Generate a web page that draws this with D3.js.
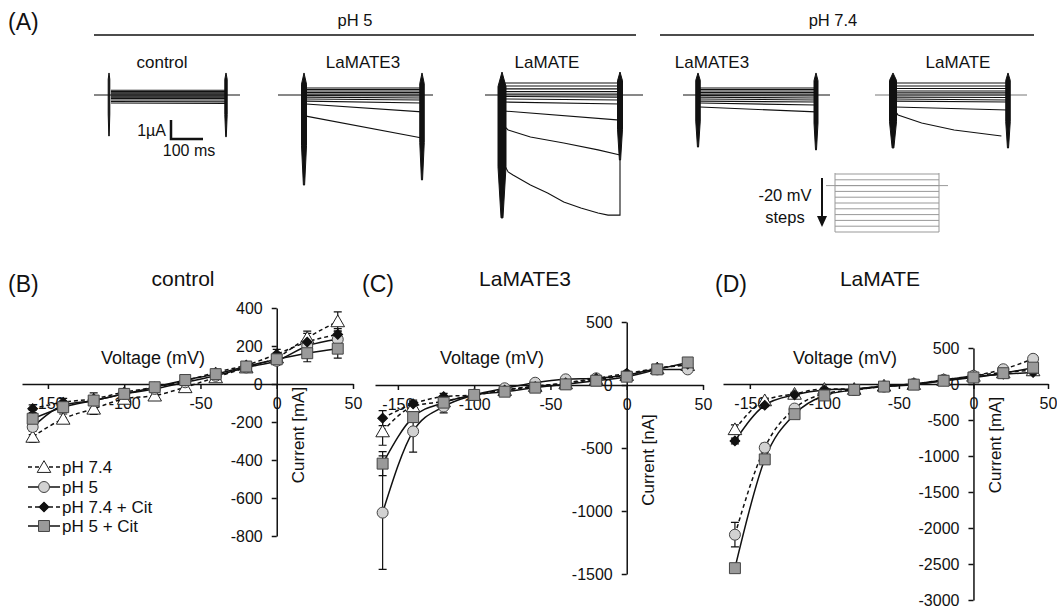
<!DOCTYPE html>
<html>
<head>
<meta charset="utf-8">
<script src="https://cdn.jsdelivr.net/npm/d3@7"></script>
<style>
  body { margin: 0; background: #fff; }
  svg text { font-family: "Liberation Sans", Arial, Helvetica, sans-serif; fill: #111; }
</style>
</head>
<body>
<script>
// ---------- data ----------
var voltages = [-160, -140, -120, -100, -80, -60, -40, -20, 0, 20, 40];
var seriesNames = ["pH 7.4", "pH 5", "pH 7.4 + Cit", "pH 5 + Cit"];

// (B) control
var ctrlPH74    = [-278, -183, -130, -78, -61, -17, 35, 87, 139, 243, 330];
var ctrlPH5     = [-226, -113, -87, -52, -26, 9, 43, 87, 122, 200, 235];
var ctrlPH74Cit = [-130, -96, -78, -43, -17, 17, 61, 99, 157, 221, 261];
var ctrlPH5Cit  = [-183, -122, -87, -52, -17, 21, 52, 92, 130, 162, 186];
var ctrlErr74    = [30, 25, 30, 20, 20, 15, 15, 15, 25, 35, 50];
var ctrlErr5     = [40, 20, 20, 15, 15, 15, 15, 15, 20, 30, 40];
var ctrlErr74Cit = [20, 20, 15, 15, 15, 15, 15, 15, 25, 45, 30];
var ctrlErr5Cit  = [45, 25, 40, 20, 15, 15, 15, 15, 20, 45, 50];

// (C) LaMATE3
var lm3PH74    = [-368, -170, -130, -79, -40, -8, 13, 45, 79, 132, 158];
var lm3PH5     = [-1013, -368, -171, -79, -26, 18, 45, 53, 79, 124, 124];
var lm3PH74Cit = [-263, -150, -92, -79, -40, -13, 18, 53, 92, 132, 166];
var lm3PH5Cit  = [-624, -255, -140, -79, -53, -21, 5, 34, 66, 124, 179];
var lm3Err74    = [110, 40, 30, 20, 15, 15, 15, 15, 15, 20, 20];
var lm3Err5     = [450, 165, 50, 25, 15, 15, 15, 15, 15, 20, 20];
var lm3Err74Cit = [60, 30, 25, 15, 15, 15, 15, 15, 15, 20, 20];
var lm3Err5Cit  = [95, 40, 30, 20, 15, 15, 15, 15, 15, 20, 20];

// (D) LaMATE
var lmPH74    = [-628, -227, -136, -68, -68, -23, 0, 55, 114, 160, 190];
var lmPH5     = [-2093, -884, -341, -136, -82, -36, 0, 59, 114, 205, 350];
var lmPH74Cit = [-791, -295, -150, -82, -68, -32, 0, 45, 100, 136, 160];
var lmPH5Cit  = [-2558, -1047, -419, -159, -82, -36, -9, 45, 91, 150, 227];
var lmErr74    = [60, 30, 20, 15, 15, 15, 15, 15, 15, 20, 20];
var lmErr5     = [170, 60, 40, 20, 15, 15, 15, 15, 15, 20, 30];
var lmErr74Cit = [40, 20, 15, 15, 15, 15, 15, 15, 15, 20, 20];
var lmErr5Cit  = [50, 40, 30, 20, 15, 15, 15, 15, 15, 20, 20];

// (A) current traces, uA at step start / end (+40 ... -160 mV)
var ctrlStart = [0.25, 0.18, 0.12, 0.06, 0.0, -0.06, -0.12, -0.18, -0.26, -0.34, -0.42];
var ctrlEnd   = [0.25, 0.18, 0.12, 0.06, 0.0, -0.06, -0.12, -0.18, -0.26, -0.36, -0.45];
var lm3p5Start = [0.37, 0.29, 0.21, 0.13, 0.05, -0.03, -0.11, -0.21, -0.32, -0.47, -1.11];
var lm3p5End   = [0.37, 0.29, 0.21, 0.13, 0.05, -0.05, -0.16, -0.26, -0.42, -0.89, -2.26];
var lmp5Start = [0.63, 0.47, 0.32, 0.18, 0.05, -0.08, -0.21, -0.37, -0.84, -1.84, -4.05];
var lmp5End   = [0.63, 0.47, 0.32, 0.18, 0.05, -0.11, -0.26, -0.47, -1.32, -3.16, -6.32];
var lm3p74Start = [0.37, 0.29, 0.21, 0.13, 0.05, -0.03, -0.11, -0.21, -0.32, -0.42, -0.63];
var lm3p74End   = [0.37, 0.29, 0.21, 0.13, 0.05, -0.05, -0.16, -0.26, -0.37, -0.53, -0.89];
var lmp74Start = [0.63, 0.47, 0.34, 0.21, 0.11, 0.0, -0.11, -0.21, -0.32, -0.63, -1.05];
var lmp74End   = [0.63, 0.47, 0.34, 0.21, 0.11, 0.0, -0.13, -0.26, -0.37, -0.79, -2.16];
// slowly activating traces [ms, uA]
var lmp5Slow1 = [[6, -1.63], [19, -1.84], [88, -2.21], [191, -2.53], [297, -2.89], [365, -3.16]];
var lmp5Slow2 = [[6, -3.63], [19, -4.05], [34, -4.21], [88, -4.74], [141, -5.16], [191, -5.63],
                 [244, -5.95], [297, -6.21], [328, -6.32], [365, -6.32], [365, -3.4]];
var lmp74Slow = [[4, -0.79], [16, -1.05], [91, -1.47], [194, -1.84], [344, -2.16]];
// capacitive spikes [up, down] uA
var spikeOn  = [[1.16, -2.16], [1.16, -4.74], [1.21, -6.47], [1.16, -2.74], [1.16, -2.79]];
var spikeOff = [[1.16, -2.2], [1.16, -4.47], [1.21, -3.42], [1.16, -2.89], [1.16, -2.79]];
// voltage protocol levels (mV)
var stepLevels = [40, 20, 0, -20, -40, -60, -80, -100, -120, -140, -160];
var holdLevel = 0;

// ---------- setup ----------
var svg = d3.select("body").append("svg")
    .attr("width", 1057)
    .attr("height", 608);

function label(x, y, txt, size, anchor) {
    return svg.append("text")
        .attr("x", x).attr("y", y)
        .attr("font-size", size)
        .attr("text-anchor", anchor || "middle")
        .attr("dy", "0.35em")
        .text(txt);
}

// ---------- panel A ----------
label(8, 22, "(A)", 23, "start");
label(355, 20, "pH 5", 16.5);
label(833, 20, "pH 7.4", 16.5);
svg.append("line").attr("x1", 94).attr("x2", 636).attr("y1", 35).attr("y2", 35)
   .attr("stroke", "#111").attr("stroke-width", 1.5);
svg.append("line").attr("x1", 660).attr("x2", 1034).attr("y1", 35).attr("y2", 35)
   .attr("stroke", "#111").attr("stroke-width", 1.5);

var iScale = d3.scaleLinear().domain([-7, 2]).range([95 + 7 * 19, 95 - 2 * 19]);

var tracePanels = [
    {title: "control", cx: 162, on: 109, off: 226, base: [94, 240], start: ctrlStart, end: ctrlEnd, wOn: 1.6, wOff: 2.4},
    {title: "LaMATE3", cx: 363, on: 304, off: 422, base: [278, 433], start: lm3p5Start, end: lm3p5End, wOn: 5, wOff: 4.5},
    {title: "LaMATE", cx: 547, on: 502, off: 620, base: [485, 643], start: lmp5Start, end: lmp5End, wOn: 8, wOff: 5,
     slow: {9: lmp5Slow1, 10: lmp5Slow2}},
    {title: "LaMATE3", cx: 712, on: 698, off: 816, base: [683, 830], start: lm3p74Start, end: lm3p74End, wOn: 4.5, wOff: 4},
    {title: "LaMATE", cx: 958, on: 893, off: 1008, base: [875, 1027], start: lmp74Start, end: lmp74End, wOn: 7, wOff: 4.5,
     slow: {10: lmp74Slow}, baseColor: "#777"}
];

var traceLine = d3.line();

function spikePath(x, w, top, bottom) {
    var h = bottom - top;
    var pts = [[x, top], [x + w / 2, top + h * 0.1], [x + w / 2, top + h * 0.65], [x + w * 0.12, bottom],
               [x - w * 0.12, bottom], [x - w / 2, top + h * 0.65], [x - w / 2, top + h * 0.1]];
    return "M" + pts.join("L") + "Z";
}

tracePanels.forEach(function(p, k) {
    label(p.cx, 62, p.title, 17);
    var t = d3.scaleLinear().domain([0, 365]).range([p.on, p.off]);
    var g = svg.append("g");

    g.append("line").attr("x1", p.base[0]).attr("x2", p.base[1])
     .attr("y1", iScale(0)).attr("y2", iScale(0))
     .attr("stroke", p.baseColor || "#111").attr("stroke-width", 1);

    var traces = p.start.map(function(s, i) {
        if (p.slow && p.slow[i]) return p.slow[i];
        return [[6, s], [365, p.end[i]]];
    });
    g.selectAll("path.trace").data(traces).enter().append("path")
     .attr("class", "trace")
     .attr("fill", "none")
     .attr("stroke", "#111")
     .attr("stroke-width", 1.1)
     .attr("d", function(d) { return traceLine(d.map(function(q) { return [t(q[0]), iScale(q[1])]; })); });

    g.append("path").attr("d", spikePath(p.on, p.wOn, iScale(spikeOn[k][0]), iScale(spikeOn[k][1])))
     .attr("fill", "#111").attr("stroke", "#111").attr("stroke-width", 1);
    g.append("path").attr("d", spikePath(p.off, p.wOff, iScale(spikeOff[k][0]), iScale(spikeOff[k][1])))
     .attr("fill", "#111").attr("stroke", "#111").attr("stroke-width", 1);
});

// scale bar: 1 uA / 100 ms
var sbT = d3.scaleLinear().domain([0, 100]).range([171, 203]);
var sbI = d3.scaleLinear().domain([0, 1]).range([139, 120]);
svg.append("path")
   .attr("d", traceLine([[sbT(0), sbI(1)], [sbT(0), sbI(0)], [sbT(100), sbI(0)]]))
   .attr("fill", "none").attr("stroke", "#111").attr("stroke-width", 2.5);
label(166, 130, "1\u00b5A", 16, "end");
label(189, 150, "100 ms", 16);

// voltage protocol
var vScale = d3.scaleLinear().domain([40, -160]).range([174, 232]);
var vg = svg.append("g");
vg.selectAll("line.step").data(stepLevels).enter().append("line")
  .attr("x1", 835).attr("x2", 939)
  .attr("y1", function(d) { return vScale(d); }).attr("y2", function(d) { return vScale(d); })
  .attr("stroke", "#999").attr("stroke-width", 1);
vg.append("line").attr("x1", 826).attr("x2", 948)
  .attr("y1", vScale(holdLevel)).attr("y2", vScale(holdLevel))
  .attr("stroke", "#999").attr("stroke-width", 1);
[835, 939].forEach(function(x) {
    vg.append("line").attr("x1", x).attr("x2", x).attr("y1", vScale(40) - 1).attr("y2", vScale(-160))
      .attr("stroke", "#999").attr("stroke-width", 1);
});
vg.append("line").attr("x1", 822).attr("x2", 822).attr("y1", 178).attr("y2", 218)
  .attr("stroke", "#111").attr("stroke-width", 2);
vg.append("path").attr("d", "M817,216L827,216L822,227Z").attr("fill", "#111");
label(785, 195, "-20 mV", 16.5);
label(785, 217, "steps", 16.5);

// ---------- panels B, C, D ----------
var markerFill = ["#fff", "#d2d2d2", "#111", "#9a9a9a"];
var markerStroke = ["#222", "#444", "#111", "#444"];
var markerPath = [
    d3.symbol().type(d3.symbolTriangle).size(80)(),
    d3.symbol().type(d3.symbolCircle).size(95)(),
    d3.symbol().type(d3.symbolSquare).size(48)(),
    d3.symbol().type(d3.symbolSquare).size(120)()
];
var markerRot = [0, 0, 45, 0];
var legendDash = ["4,3", null, "4,3", null];

var ivPanels = [
    {tag: "(B)", tagX: 8, title: "control", titleX: 183,
     xRange: [22, 353], xDomain: [-167, 50], yDomain: [-800, 400], yRange: [536, 308],
     yTicks: [-800, -600, -400, -200, 0, 200, 400], vlab: [153, 358], clab: [298, 435], cText: "Current [mA]",
     series: [ctrlPH74, ctrlPH5, ctrlPH74Cit, ctrlPH5Cit], errs: [ctrlErr74, ctrlErr5, ctrlErr74Cit, ctrlErr5Cit],
     dash: legendDash},
    {tag: "(C)", tagX: 362, title: "LaMATE3", titleX: 525,
     xRange: [375, 703], xDomain: [-165, 50], yDomain: [-1500, 500], yRange: [574, 322],
     yTicks: [-1500, -1000, -500, 0, 500], vlab: [492, 358], clab: [648, 460], cText: "Current [nA]",
     series: [lm3PH74, lm3PH5, lm3PH74Cit, lm3PH5Cit], errs: [lm3Err74, lm3Err5, lm3Err74Cit, lm3Err5Cit],
     dash: legendDash},
    {tag: "(D)", tagX: 715, title: "LaMATE", titleX: 880,
     xRange: [723, 1048], xDomain: [-168, 50], yDomain: [-3000, 500], yRange: [600, 348],
     yTicks: [-3000, -2500, -2000, -1500, -1000, -500, 0, 500], vlab: [845, 358], clab: [995, 445], cText: "Current [mA]",
     series: [lmPH74, lmPH5, lmPH74Cit, lmPH5Cit], errs: [lmErr74, lmErr5, lmErr74Cit, lmErr5Cit],
     dash: ["4,3", "4,3", null, null]}
];

ivPanels.forEach(function(p) {
    label(p.tagX, 284, p.tag, 23, "start");
    label(p.titleX, 279, p.title, 21);

    var x = d3.scaleLinear().domain(p.xDomain).range(p.xRange);
    var y = d3.scaleLinear().domain(p.yDomain).range(p.yRange);
    var g = svg.append("g");

    var xAxis = g.append("g")
        .attr("transform", "translate(0," + y(0) + ")")
        .call(d3.axisBottom(x).tickValues([-150, -100, -50, 0, 50])
              .tickSize(5).tickSizeOuter(0).tickPadding(9).tickFormat(function(d) { return String(d); }));
    var yAxis = g.append("g")
        .attr("transform", "translate(" + x(0) + ",0)")
        .call(d3.axisLeft(y).tickValues(p.yTicks)
              .tickSize(5).tickSizeOuter(0).tickPadding(9).tickFormat(function(d) { return String(d); }));
    [xAxis, yAxis].forEach(function(a) {
        a.attr("font-family", null).attr("font-size", null);
        a.selectAll("path, line").attr("stroke", "#111").attr("stroke-width", 1.5);
        a.selectAll("text").attr("font-size", 16).attr("fill", "#111");
    });

    svg.append("text").attr("x", p.vlab[0]).attr("y", p.vlab[1]).attr("dy", "0.35em")
       .attr("text-anchor", "middle").attr("font-size", 18).text("Voltage (mV)");
    svg.append("text").attr("transform", "translate(" + p.clab[0] + "," + p.clab[1] + ") rotate(-90)")
       .attr("dy", "0.35em").attr("text-anchor", "middle").attr("font-size", 17).text(p.cText);

    var line = d3.line()
        .x(function(d, i) { return x(voltages[i]); })
        .y(function(d) { return y(d); })
        .curve(d3.curveMonotoneX);

    p.series.forEach(function(s, k) {
        g.append("path").datum(s)
         .attr("fill", "none").attr("stroke", "#111").attr("stroke-width", 1.5)
         .attr("stroke-dasharray", p.dash[k])
         .attr("d", line);
    });

    p.series.forEach(function(s, k) {
        var eg = g.append("g");
        var pts = s.map(function(v, i) { return {v: voltages[i], c: v, e: p.errs[k][i]}; });
        eg.selectAll("path").data(pts).enter().append("path")
          .attr("fill", "none").attr("stroke", "#111").attr("stroke-width", 1.2)
          .attr("d", function(d) {
              var cx = x(d.v), y1 = y(d.c + d.e), y2 = y(d.c - d.e);
              return "M" + (cx - 4) + "," + y1 + "H" + (cx + 4) + "M" + cx + "," + y1 + "V" + y2 +
                     "M" + (cx - 4) + "," + y2 + "H" + (cx + 4);
          });
    });

    p.series.forEach(function(s, k) {
        g.append("g").selectAll("path").data(s).enter().append("path")
         .attr("d", markerPath[k])
         .attr("transform", function(d, i) {
             return "translate(" + x(voltages[i]) + "," + (y(d) + (k === 0 ? 1.5 : 0)) + ") rotate(" + markerRot[k] + ")";
         })
         .attr("fill", markerFill[k]).attr("stroke", markerStroke[k]).attr("stroke-width", 1);
    });
});

// legend in (B)
var legY = [467, 487, 507, 526];
seriesNames.forEach(function(name, k) {
    var lg = svg.append("g").attr("transform", "translate(0," + legY[k] + ")");
    lg.append("line").attr("x1", 28).attr("x2", 60).attr("y1", 0).attr("y2", 0)
      .attr("stroke", "#111").attr("stroke-width", 1.5).attr("stroke-dasharray", legendDash[k]);
    lg.append("path").attr("d", markerPath[k])
      .attr("transform", "translate(44," + (k === 0 ? 1.5 : 0) + ") rotate(" + markerRot[k] + ")")
      .attr("fill", markerFill[k]).attr("stroke", markerStroke[k]).attr("stroke-width", 1);
    lg.append("text").attr("x", 62).attr("y", 0).attr("dy", "0.35em")
      .attr("font-size", 17).text(name);
});
</script>
</body>
</html>
